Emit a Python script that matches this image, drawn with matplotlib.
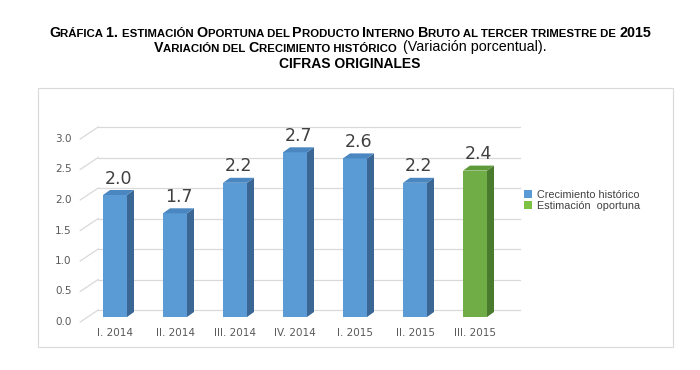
import matplotlib
matplotlib.use("Agg")
from matplotlib import pyplot as plt
from matplotlib.patches import Polygon, Patch, Rectangle

# data
quarters = ["I. 2014", "II. 2014", "III. 2014", "IV. 2014", "I. 2015", "II. 2015", "III. 2015"]
values = [2.0, 1.7, 2.2, 2.7, 2.6, 2.2, 2.4]
is_estimate = [False, False, False, False, False, False, True]
yticks = [0.0, 0.5, 1.0, 1.5, 2.0, 2.5, 3.0]
series_names = ["Crecimiento histórico", "Estimación  oportuna"]

W, H = 700, 370
fig = plt.figure(figsize=(7, 3.7), dpi=100)

# outer chart frame
fig.patches.append(Rectangle((38 / W, 1 - 347 / H), (673 - 38) / W, (347 - 88) / H,
                             transform=fig.transFigure, fill=False,
                             edgecolor="#d9d9d9", linewidth=0.8))

# axes placed in pixel units: x 70..530, y 100..330
ax = fig.add_axes([70 / W, 1 - 330 / H, 460 / W, 230 / H])
ax.set_xlim((70 - 115) / 60, (530 - 115) / 60)
ax.set_ylim(-(330 - 317) / 61, (317 - 100) / 61)
ax.axis("off")

px_x = 1 / 60
px_y = 1 / 61
dx, dy = 7 * px_x, 5 * px_y
bw = 24 * px_x

# perspective gridlines
for v in yticks:
    yf = v - 5 * px_y
    yb = v + 7 * px_y
    ax.plot([-0.58, -0.28], [yf, yb], color="#d9d9d9", lw=0.9, zorder=1)
    ax.plot([-0.28, 6.75], [yb, yb], color="#d9d9d9", lw=0.9, zorder=1)
    ax.text(-0.72, yf, f"{v:.1f}", ha="right", va="center", fontsize=7.5,
            color="#595959")

# bars with fake depth
for i, (v, est) in enumerate(zip(values, is_estimate)):
    if est:
        front, side, top = "#70ad47", "#4a7a2e", "#5e9a3a"
    else:
        front, side, top = "#5b9bd5", "#3b6794", "#4a86c0"
    x0, x1 = i - bw / 2, i + bw / 2
    ax.bar(i, v, width=bw, color=front, zorder=3)
    ax.add_patch(Polygon([(x1, 0), (x1 + dx, dy), (x1 + dx, v + dy), (x1, v)],
                         closed=True, facecolor=side, edgecolor="none", zorder=3))
    ax.add_patch(Polygon([(x0, v), (x0 + dx, v + dy), (x1 + dx, v + dy), (x1, v)],
                         closed=True, facecolor=top, edgecolor="none", zorder=3))
    ax.text(i + dx / 2, v + 0.12, f"{v:.1f}", ha="center", va="bottom",
            fontsize=12.5, color="#404040", zorder=4)
    ax.text(i, -(333 - 317) * px_y, quarters[i], ha="center", va="center",
            fontsize=7.5, color="#595959")

# legend
handles = [Patch(facecolor="#5b9bd5", edgecolor="none"),
           Patch(facecolor="#7dc242", edgecolor="none")]
fig.legend(handles, series_names, loc="upper left",
           bbox_to_anchor=(514 / W, 1 - 180 / H), frameon=False,
           prop={"family": "Liberation Sans", "size": 7.8},
           handlelength=0.8, handleheight=0.8, handletextpad=0.4,
           labelspacing=0.1, labelcolor="#404040")


# title with small caps
def small_caps_line(y, runs, big=10.3, small=8.2, family="Liberation Sans"):
    fig.canvas.draw()
    r = fig.canvas.get_renderer()
    pieces = []
    for txt, kind in runs:
        if kind == "sc":
            buf, cur = "", None
            for ch in txt:
                k = "big" if (ch.isupper() or not ch.isalpha()) else "small"
                if ch == " ":
                    k = cur or "small"
                if cur is None or k == cur:
                    buf += ch
                    cur = k
                else:
                    pieces.append((buf if cur == "big" else buf.upper(),
                                   big if cur == "big" else small, "bold"))
                    buf, cur = ch, k
            if buf:
                pieces.append((buf if cur == "big" else buf.upper(),
                               big if cur == "big" else small, "bold"))
        else:
            pieces.append((txt, big, "normal"))
    objs = []
    total = 0
    for t, s, w in pieces:
        o = fig.text(0, 1 - y / H, t, fontsize=s, fontweight=w, family=family,
                     va="baseline", ha="left", color="black")
        wid = o.get_window_extent(r).width
        objs.append((o, wid))
        total += wid
    x = (W - total) / 2
    for o, wid in objs:
        o.set_x(x / W)
        x += wid


small_caps_line(37, [("Gráfica 1. estimación Oportuna del Producto Interno Bruto al tercer trimestre de 2015", "sc")])
small_caps_line(51.5, [("Variación del Crecimiento histórico  ", "sc"), ("(Variación porcentual).", "plain")])
fig.text(0.5, 1 - 63.5 / H, "CIFRAS ORIGINALES", ha="center", va="center",
         fontsize=10, fontweight="bold", family="Liberation Sans")

fig.savefig("out.png", dpi=100)
